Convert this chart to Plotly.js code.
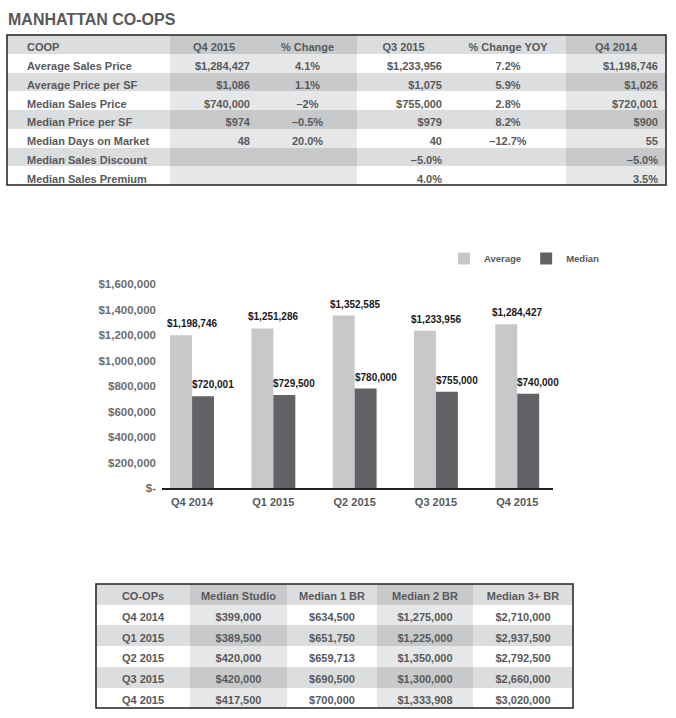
<!DOCTYPE html>
<html>
<head>
<meta charset="utf-8">
<script src="https://cdn.plot.ly/plotly-3.0.1.min.js"></script>
<style>html,body{margin:0;padding:0;background:#fff}#chart{width:676px;height:718px}</style>
</head>
<body>
<div id="chart"></div>
<script>
// ---------- data ----------
const chartTitle = 'MANHATTAN CO-OPS';

const coopHeaders = ['COOP', 'Q4 2015', '% Change', 'Q3 2015', '% Change YOY', 'Q4 2014'];
const coopMetrics = ['Average Sales Price', 'Average Price per SF', 'Median Sales Price', 'Median Price per SF', 'Median Days on Market', 'Median Sales Discount', 'Median Sales Premium'];
const coopQ42015 = ['$1,284,427', '$1,086', '$740,000', '$974', '48', '', ''];
const coopPctChange = ['4.1%', '1.1%', '–2%', '–0.5%', '20.0%', '', ''];
const coopQ32015 = ['$1,233,956', '$1,075', '$755,000', '$979', '40', '–5.0%', '4.0%'];
const coopPctChangeYoY = ['7.2%', '5.9%', '2.8%', '8.2%', '–12.7%', '', ''];
const coopQ42014 = ['$1,198,746', '$1,026', '$720,001', '$900', '55', '–5.0%', '3.5%'];

const quarters = ['Q4 2014', 'Q1 2015', 'Q2 2015', 'Q3 2015', 'Q4 2015'];
const averagePrice = [1198746, 1251286, 1352585, 1233956, 1284427];
const medianPrice = [720001, 729500, 780000, 755000, 740000];
const yTickVals = [0, 200000, 400000, 600000, 800000, 1000000, 1200000, 1400000, 1600000];
const yTickText = ['$-', '$200,000', '$400,000', '$600,000', '$800,000', '$1,000,000', '$1,200,000', '$1,400,000', '$1,600,000'];

const unitHeaders = ['CO-OPs', 'Median Studio', 'Median 1 BR', 'Median 2 BR', 'Median 3+ BR'];
const unitQuarters = ['Q4 2014', 'Q1 2015', 'Q2 2015', 'Q3 2015', 'Q4 2015'];
const medianStudio = ['$399,000', '$389,500', '$420,000', '$420,000', '$417,500'];
const median1BR = ['$634,500', '$651,750', '$659,713', '$690,500', '$700,000'];
const median2BR = ['$1,275,000', '$1,225,000', '$1,350,000', '$1,300,000', '$1,333,908'];
const median3BR = ['$2,710,000', '$2,937,500', '$2,792,500', '$2,660,000', '$3,020,000'];

// ---------- styling ----------
const FONT = '"Liberation Sans", Arial, Helvetica, sans-serif';
const TXT = '#58595b';
const C_WHITE = '#ffffff', C_LIGHT = '#dcdddf', C_SH_LIGHT = '#e6e7e8', C_SH_DARK = '#c8c9cb';
const W = 676, H = 718;
const px = v => v / W;
const py = v => 1 - v / H;

function cellFills(shaded, nRows) {
  return shaded.map(s => Array.from({length: nRows}, (_, r) => {
    const gray = r % 2 === 1;
    return s ? (gray ? C_SH_DARK : C_SH_LIGHT) : (gray ? C_LIGHT : C_WHITE);
  }));
}
function headerFills(shaded) { return shaded.map(s => s ? C_SH_DARK : C_LIGHT); }
const blanks = n => Array.from({length: n}, () => '');

const money = v => '$' + v.toLocaleString('en-US');

// ---------- traces ----------
// first column is an empty indent column of the label block
const topShaded = [false, false, true, true, false, false, true];
const tableFont = {family: FONT, size: 11, color: TXT, weight: 'bold'};
const topTable = {
  type: 'table',
  domain: {x: [px(7), px(666)], y: [py(188), py(35)]},
  columnwidth: [12, 151, 88, 99, 93, 116, 100],
  header: {
    values: [''].concat(coopHeaders),
    align: ['left', 'left', 'center', 'center', 'center', 'center', 'center'],
    fill: {color: headerFills(topShaded)},
    font: tableFont,
    height: 18.75,
    line: {width: 0, color: 'rgba(0,0,0,0)'}
  },
  cells: {
    values: [blanks(coopMetrics.length), coopMetrics, coopQ42015, coopPctChange, coopQ32015, coopPctChangeYoY, coopQ42014],
    align: ['left', 'left', 'right', 'center', 'right', 'center', 'right'],
    fill: {color: cellFills(topShaded, coopMetrics.length)},
    font: tableFont,
    height: 18.75,
    line: {width: 0, color: 'rgba(0,0,0,0)'}
  },
  hoverinfo: 'skip'
};

const avgTrace = {
  type: 'bar', name: 'Average', x: quarters, y: averagePrice,
  marker: {color: '#c6c8ca'}, hoverinfo: 'skip', xaxis: 'x', yaxis: 'y'
};
const medTrace = {
  type: 'bar', name: 'Median', x: quarters, y: medianPrice,
  marker: {color: '#616265'}, hoverinfo: 'skip', xaxis: 'x', yaxis: 'y'
};

const botShaded = [false, true, false, true, false];
const botTable = {
  type: 'table',
  domain: {x: [px(96), px(573)], y: [py(711), py(584)]},
  columnwidth: [94, 97, 90, 96, 100],
  header: {
    values: unitHeaders,
    align: 'center',
    fill: {color: headerFills(botShaded)},
    font: tableFont,
    height: 20.7,
    line: {width: 0, color: 'rgba(0,0,0,0)'}
  },
  cells: {
    values: [unitQuarters, medianStudio, median1BR, median2BR, median3BR],
    align: 'center',
    fill: {color: cellFills(botShaded, unitQuarters.length)},
    font: tableFont,
    height: 20.7,
    line: {width: 0, color: 'rgba(0,0,0,0)'}
  },
  hoverinfo: 'skip'
};

// bar value labels
const labelFont = {family: FONT, size: 10, color: '#1a1a1a', weight: 'bold'};
const annotations = [];
quarters.forEach((q, i) => {
  annotations.push({xref: 'x', yref: 'y', x: q, y: averagePrice[i], text: money(averagePrice[i]),
    showarrow: false, yanchor: 'bottom', xanchor: 'center', xshift: 0, yshift: 4, font: labelFont});
  annotations.push({xref: 'x', yref: 'y', x: q, y: medianPrice[i], text: money(medianPrice[i]),
    showarrow: false, yanchor: 'bottom', xanchor: 'center', xshift: 21, yshift: 4, font: labelFont});
});

const layout = {
  width: W, height: H,
  margin: {l: 0, r: 0, t: 0, b: 0},
  paper_bgcolor: '#ffffff', plot_bgcolor: '#ffffff',
  title: {text: chartTitle, x: px(8), xanchor: 'left', xref: 'paper', y: py(19), yref: 'paper', yanchor: 'middle',
    font: {family: FONT, size: 16, color: TXT, weight: 'bold'}},
  barmode: 'group', bargap: 0.46, bargroupgap: 0,
  xaxis: {
    domain: [px(162), px(553)], anchor: 'y',
    type: 'category', range: [-0.37, 4.44],
    showline: true, linecolor: '#231f20', linewidth: 1.5,
    showgrid: false, zeroline: false, ticks: '',
    ticklabelstandoff: 3,
    tickfont: {family: FONT, size: 11, color: TXT, weight: 'bold'},
    fixedrange: true
  },
  yaxis: {
    domain: [py(488), py(284)], anchor: 'x',
    range: [0, 1600000],
    tickvals: yTickVals, ticktext: yTickText,
    showline: false, showgrid: false, zeroline: false, ticks: '',
    ticklabelstandoff: 5,
    tickfont: {family: FONT, size: 11.5, color: '#6d6e71', weight: 'bold'},
    fixedrange: true
  },
  showlegend: true,
  legend: {
    orientation: 'h', x: px(444), xanchor: 'left', y: py(244), yanchor: 'top',
    font: {family: FONT, size: 9.5, color: TXT, weight: 'bold'},
    bgcolor: 'rgba(0,0,0,0)', borderwidth: 0, traceorder: 'normal', itemclick: false, itemdoubleclick: false
  },
  shapes: [
    {type: 'rect', xref: 'paper', yref: 'paper', x0: px(7), x1: px(666), y0: py(185), y1: py(35),
      line: {color: '#231f20', width: 1.5}, fillcolor: 'rgba(0,0,0,0)', layer: 'above'},
    {type: 'rect', xref: 'paper', yref: 'paper', x0: px(96), x1: px(573), y0: py(708), y1: py(584),
      line: {color: '#231f20', width: 1.5}, fillcolor: 'rgba(0,0,0,0)', layer: 'above'}
  ],
  annotations: annotations
};

Plotly.newPlot('chart', [topTable, avgTrace, medTrace, botTable], layout, {displayModeBar: false, staticPlot: true});
</script>
</body>
</html>
